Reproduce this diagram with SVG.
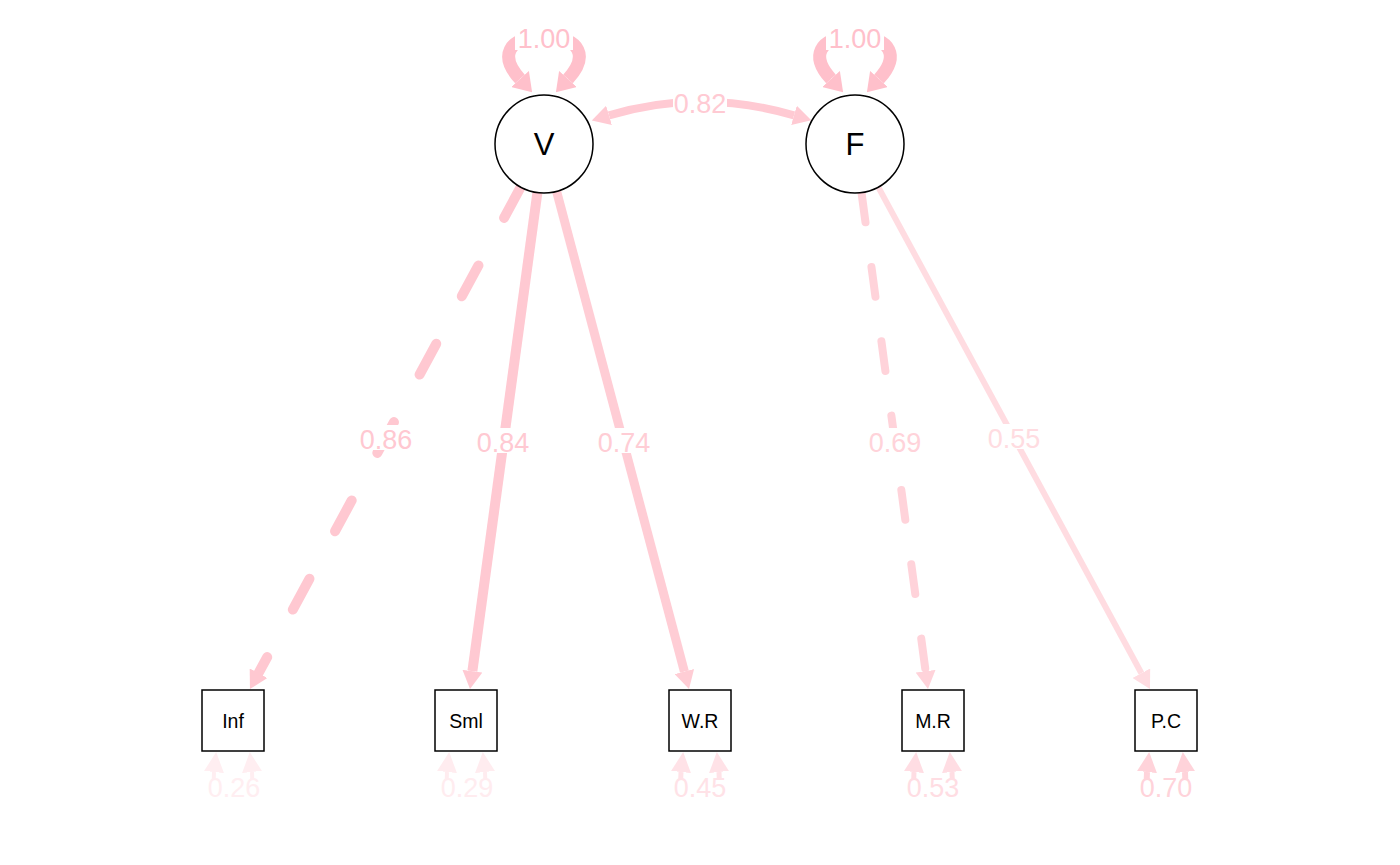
<svg xmlns="http://www.w3.org/2000/svg" width="1400" height="865" viewBox="0 0 1400 865">
<style>
 .node circle, .node rect {fill:#fff; stroke:#000; stroke-width:1.5}
 .nl {font-family:"Liberation Sans",Arial,sans-serif; text-anchor:middle; fill:#000}
 .el {font-family:"Liberation Sans",Arial,sans-serif; font-size:27px; text-anchor:middle}
 .bg {fill:#fff}
 .e {fill:none}
</style>
<defs>
 <marker id="mLoop" viewBox="0 0 18 24" markerUnits="userSpaceOnUse" markerWidth="18" markerHeight="24" refX="0" refY="12" orient="auto-start-reverse"><path d="M0,0 L18,12 L0,24 z" fill="#FFC0CB"/></marker>
 <marker id="mCov" viewBox="0 0 18 20" markerUnits="userSpaceOnUse" markerWidth="18" markerHeight="20" refX="0" refY="10" orient="auto-start-reverse"><path d="M0,0 L18,10 L0,20 z" fill="#FFCAD3"/></marker>
 <marker id="mInf" viewBox="0 0 18 20" markerUnits="userSpaceOnUse" markerWidth="18" markerHeight="20" refX="0" refY="10" orient="auto-start-reverse"><path d="M0,0 L18,10 L0,20 z" fill="#FFC8D1"/></marker>
 <marker id="mSml" viewBox="0 0 18 20" markerUnits="userSpaceOnUse" markerWidth="18" markerHeight="20" refX="0" refY="10" orient="auto-start-reverse"><path d="M0,0 L18,10 L0,20 z" fill="#FFC9D2"/></marker>
 <marker id="mWR" viewBox="0 0 18 20" markerUnits="userSpaceOnUse" markerWidth="18" markerHeight="20" refX="0" refY="10" orient="auto-start-reverse"><path d="M0,0 L18,10 L0,20 z" fill="#FFCDD5"/></marker>
 <marker id="mMR" viewBox="0 0 18 20" markerUnits="userSpaceOnUse" markerWidth="18" markerHeight="20" refX="0" refY="10" orient="auto-start-reverse"><path d="M0,0 L18,10 L0,20 z" fill="#FFD3DA"/></marker>
 <marker id="mPC" viewBox="0 0 18 20" markerUnits="userSpaceOnUse" markerWidth="18" markerHeight="20" refX="0" refY="10" orient="auto-start-reverse"><path d="M0,0 L18,10 L0,20 z" fill="#FFDCE1"/></marker>
 <marker id="r26" viewBox="0 0 20 20" markerUnits="userSpaceOnUse" markerWidth="20" markerHeight="20" refX="0" refY="10" orient="auto-start-reverse"><path d="M0,0 L20,10 L0,20 z" fill="#FFEEF1"/></marker>
 <marker id="r29" viewBox="0 0 20 20" markerUnits="userSpaceOnUse" markerWidth="20" markerHeight="20" refX="0" refY="10" orient="auto-start-reverse"><path d="M0,0 L20,10 L0,20 z" fill="#FFECEF"/></marker>
 <marker id="r45" viewBox="0 0 20 20" markerUnits="userSpaceOnUse" markerWidth="20" markerHeight="20" refX="0" refY="10" orient="auto-start-reverse"><path d="M0,0 L20,10 L0,20 z" fill="#FFE2E7"/></marker>
 <marker id="r53" viewBox="0 0 20 20" markerUnits="userSpaceOnUse" markerWidth="20" markerHeight="20" refX="0" refY="10" orient="auto-start-reverse"><path d="M0,0 L20,10 L0,20 z" fill="#FFDDE3"/></marker>
 <marker id="r70" viewBox="0 0 20 20" markerUnits="userSpaceOnUse" markerWidth="20" markerHeight="20" refX="0" refY="10" orient="auto-start-reverse"><path d="M0,0 L20,10 L0,20 z" fill="#FFD3DA"/></marker>
</defs>

<g id="connectors">
 <!-- variance loops -->
 <path class="e" d="M520,79 C500,57 506,37 544,37 C582,37 588,57 568,79" stroke="#FFC0CB" stroke-width="13" marker-start="url(#mLoop)" marker-end="url(#mLoop)"/>
 <path class="e" d="M831,79 C811,57 817,37 855,37 C893,37 899,57 879,79" stroke="#FFC0CB" stroke-width="13" marker-start="url(#mLoop)" marker-end="url(#mLoop)"/>
 <!-- covariance -->
 <path class="e" d="M609,115.3 Q700,88 794,115.3" stroke="#FFCAD3" stroke-width="8" marker-start="url(#mCov)" marker-end="url(#mCov)"/>
 <!-- loadings -->
 <path class="e" d="M520.7,187.1 L258.5,673.2" stroke="#FFC8D1" stroke-width="10" stroke-linecap="round" stroke-dasharray="35 54" marker-end="url(#mInf)"/>
 <path class="e" d="M537.4,192.6 L472.4,671.2" stroke="#FFC9D2" stroke-width="10" marker-end="url(#mSml)"/>
 <path class="e" d="M556.6,191.3 L684.4,671.6" stroke="#FFCDD5" stroke-width="9" marker-end="url(#mWR)"/>
 <path class="e" d="M861.5,192.6 L925.6,671.2" stroke="#FFD3DA" stroke-width="8" stroke-linecap="round" stroke-dasharray="30 45" marker-end="url(#mMR)"/>
 <path class="e" d="M878.3,187.1 L1141.4,673.2" stroke="#FFDCE1" stroke-width="6" marker-end="url(#mPC)"/>
 <!-- residuals -->
 <path class="e" d="M214,772 C210,808 256,808 252,772" stroke="#FFEEF1" stroke-width="4" marker-start="url(#r26)" marker-end="url(#r26)"/>
 <path class="e" d="M447,772 C443,808 489,808 485,772" stroke="#FFECEF" stroke-width="4" marker-start="url(#r29)" marker-end="url(#r29)"/>
 <path class="e" d="M681,772 C677,808 723,808 719,772" stroke="#FFE2E7" stroke-width="5" marker-start="url(#r45)" marker-end="url(#r45)"/>
 <path class="e" d="M914,772 C910,808 956,808 952,772" stroke="#FFDDE3" stroke-width="5" marker-start="url(#r53)" marker-end="url(#r53)"/>
 <path class="e" d="M1147,772 C1143,808 1189,808 1185,772" stroke="#FFD3DA" stroke-width="6" marker-start="url(#r70)" marker-end="url(#r70)"/>

 <!-- edge labels -->
 <rect class="bg" x="515" y="24" width="58" height="26"/><text class="el" x="544" y="48" fill="#FFC0CB">1.00</text>
 <rect class="bg" x="826" y="24" width="58" height="26"/><text class="el" x="855" y="48" fill="#FFC0CB">1.00</text>
 <rect class="bg" x="673" y="89" width="54" height="25"/><text class="el" x="700" y="113" fill="#FFCAD3">0.82</text>
 <rect class="bg" x="359" y="425" width="54" height="25"/><text class="el" x="386" y="449" fill="#FFC8D1">0.86</text>
 <rect class="bg" x="476" y="428" width="54" height="25"/><text class="el" x="503" y="452" fill="#FFC9D2">0.84</text>
 <rect class="bg" x="597" y="428" width="54" height="25"/><text class="el" x="624" y="452" fill="#FFCDD5">0.74</text>
 <rect class="bg" x="868" y="428" width="54" height="25"/><text class="el" x="895" y="452" fill="#FFD3DA">0.69</text>
 <rect class="bg" x="987" y="424" width="54" height="25"/><text class="el" x="1014" y="448" fill="#FFDCE1">0.55</text>
 <rect class="bg" x="206" y="779" width="56" height="25"/><text class="el" x="234" y="797" fill="#FFEEF1">0.26</text>
 <rect class="bg" x="439" y="779" width="56" height="25"/><text class="el" x="467" y="797" fill="#FFECEF">0.29</text>
 <rect class="bg" x="672" y="779" width="56" height="25"/><text class="el" x="700" y="797" fill="#FFE2E7">0.45</text>
 <rect class="bg" x="905" y="779" width="56" height="25"/><text class="el" x="933" y="797" fill="#FFDDE3">0.53</text>
 <rect class="bg" x="1138" y="779" width="56" height="25"/><text class="el" x="1166" y="797" fill="#FFD3DA">0.70</text>
</g>

<g id="node-V" class="node"><circle cx="544" cy="144" r="49"/><text class="nl" x="544" y="155" font-size="31">V</text></g>
<g id="node-F" class="node"><circle cx="855" cy="144" r="49"/><text class="nl" x="855" y="155" font-size="31">F</text></g>
<g id="node-Inf" class="node"><rect x="202" y="690" width="62" height="61"/><text class="nl" x="233" y="728" font-size="19.5">Inf</text></g>
<g id="node-Sml" class="node"><rect x="435" y="690" width="62" height="61"/><text class="nl" x="466" y="728" font-size="19.5">Sml</text></g>
<g id="node-WR" class="node"><rect x="669" y="690" width="62" height="61"/><text class="nl" x="700" y="728" font-size="19.5">W.R</text></g>
<g id="node-MR" class="node"><rect x="902" y="690" width="62" height="61"/><text class="nl" x="933" y="728" font-size="19.5">M.R</text></g>
<g id="node-PC" class="node"><rect x="1135" y="690" width="62" height="61"/><text class="nl" x="1166" y="728" font-size="19.5">P.C</text></g>
</svg>
